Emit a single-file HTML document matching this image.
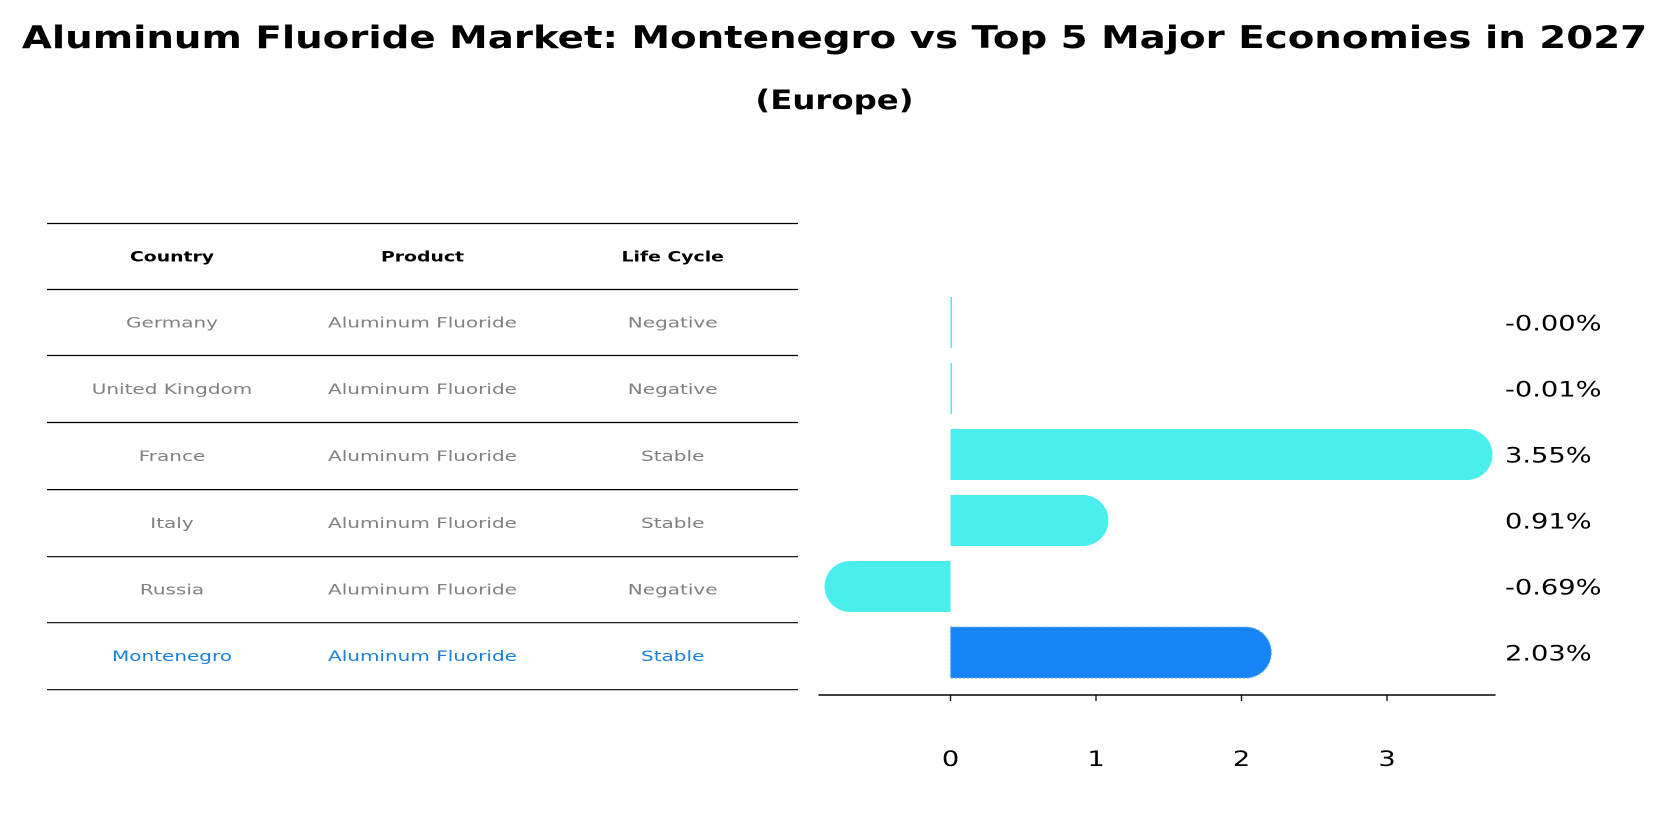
<!DOCTYPE html>
<html><head><meta charset="utf-8"><style>
body{margin:0;background:#fff;font-family:"DejaVu Sans","Liberation Sans",sans-serif;}
#wrap{position:relative;width:1669px;height:823px;overflow:hidden;}
</style></head><body>
<div id="wrap">
<svg width="1669" height="823" xmlns="http://www.w3.org/2000/svg" font-family="DejaVu Sans, Liberation Sans, sans-serif">
<text transform="translate(834.5,48) scale(1.25,1)" text-anchor="middle" font-size="31" font-weight="bold">Aluminum Fluoride Market: Montenegro vs Top 5 Major Economies in 2027</text>
<text transform="translate(834.5,109) scale(1.2,1)" text-anchor="middle" font-size="27" font-weight="bold">(Europe)</text>
<g id="table"></g>
<g id="chart"></g>
</svg>
</div>
<script>
const countries=["Germany","United Kingdom","France","Italy","Russia","Montenegro"];
const products=["Aluminum Fluoride","Aluminum Fluoride","Aluminum Fluoride","Aluminum Fluoride","Aluminum Fluoride","Aluminum Fluoride"];
const lifeCycles=["Negative","Negative","Stable","Stable","Negative","Stable"];
const growth=[-0.00,-0.01,3.55,0.91,-0.69,2.03];
const growthLabels=["-0.00%","-0.01%","3.55%","0.91%","-0.69%","2.03%"];
const xTicks=[0,1,2,3];
const NS="http://www.w3.org/2000/svg";
function mk(tag,attrs,parent){const e=document.createElementNS(NS,tag);for(const k in attrs)e.setAttribute(k,attrs[k]);parent.appendChild(e);return e;}
const tbl=document.getElementById('table');
const lineY=[223.5,289.5,355.5,422.5,489.6,556.7,622.7,689.7];
const colX=[172,422.5,672.7];
lineY.forEach(y=>{const l=mk('line',{x1:47,x2:798,y1:y,y2:y,stroke:'#000','stroke-width':1.2},tbl);

});
["Country","Product","Life Cycle"].forEach((h,i)=>{const t=mk('text',{transform:`translate(${colX[i]},${(lineY[0]+lineY[1])/2+5}) scale(1.3,1)`,'text-anchor':'middle','font-size':14.5,'font-weight':'bold'},tbl);t.textContent=h;

});
countries.forEach((c,r)=>{const cy=(lineY[r+1]+lineY[r+2])/2+5;const col=c==="Montenegro"?"#1a7fd6":"#808080";
[c,products[r],lifeCycles[r]].forEach((v,i)=>{const t=mk('text',{transform:`translate(${colX[i]},${cy}) scale(1.38,1)`,'text-anchor':'middle','font-size':14.5,fill:col},tbl);t.textContent=v;

});});
const ch=document.getElementById('chart');
const x0=950.5,unit=145.5;
const xs=v=>x0+v*unit;
const rowY=i=>322.5+i*66;
const bh=51,rad=25.5;
growth.forEach((v,i)=>{const isM=countries[i]==="Montenegro";const fill=isM?"#1785f5":"#4aeeec";
const cy=rowY(i),top=cy-bh/2,xe=xs(v);let d;
if(Math.abs(v)<0.02){d=`M${x0} ${top}h1.5v${bh}h-1.5z`;}
else if(v>0){d=`M${x0} ${top}H${xe}A${rad} ${rad} 0 0 1 ${xe} ${top+bh}H${x0}Z`;}
else{d=`M${x0} ${top}H${xe}A${rad} ${rad} 0 0 0 ${xe} ${top+bh}H${x0}Z`;}
const p=mk('path',{d:d,fill:fill},ch);
if(isM){p.setAttribute('stroke','#7ab4ee');p.setAttribute('stroke-dasharray','2 2');p.setAttribute('stroke-width','1.2');}


const t=mk('text',{transform:`translate(1505,${cy+8}) scale(1.3,1)`,'font-size':21},ch);t.textContent=growthLabels[i];

});
const ax=mk('line',{x1:818.5,x2:1495.5,y1:695,y2:695,stroke:'#000','stroke-width':1.5},ch);


xTicks.forEach(v=>{const tk=mk('line',{x1:xs(v),x2:xs(v),y1:695,y2:701,stroke:'#000','stroke-width':1.3},ch);


const t=mk('text',{transform:`translate(${xs(v)},766) scale(1.3,1)`,'text-anchor':'middle','font-size':21},ch);t.textContent=v;

});
</script>
</body></html>
